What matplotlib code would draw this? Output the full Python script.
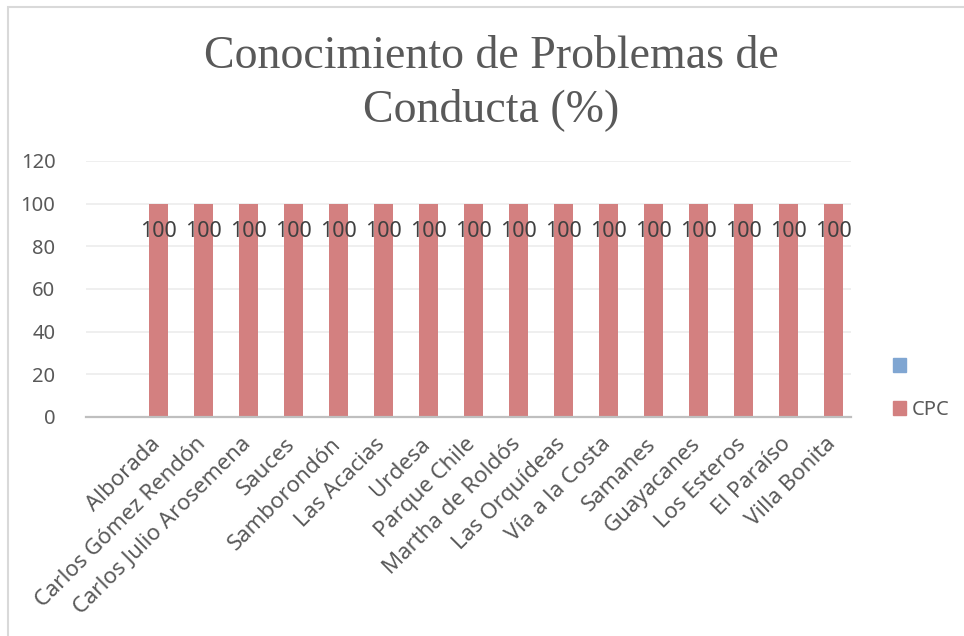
import matplotlib.pyplot as plt
import numpy as np
from matplotlib.patches import Patch, Rectangle

# data
barrios = ['Alborada', 'Carlos Gómez Rendón', 'Carlos Julio Arosemena', 'Sauces',
           'Samborondón', 'Las Acacias', 'Urdesa', 'Parque Chile', 'Martha de Roldós',
           'Las Orquídeas', 'Vía a la Costa', 'Samanes', 'Guayacanes', 'Los Esteros',
           'El Paraíso', 'Villa Bonita']
cpc = [100, 100, 100, 100, 100, 100, 100, 100, 100, 100, 100, 100, 100, 100, 100, 100]
y_ticks = [0, 20, 40, 60, 80, 100, 120]

W, H = 964, 636
fig = plt.figure(figsize=(W / 100, H / 100), dpi=100)
plt.rcParams['font.family'] = ['Noto Sans', 'DejaVu Sans']

ax = fig.add_axes([86 / W, 1 - 417 / H, (851 - 86) / W, (417 - 161) / H])

red = '#d38080'
blue = '#80a6d2'
txt = '#595959'

# first slot on the category axis is empty, like the source
x = np.arange(1, len(barrios) + 1)
bars = ax.bar(x + 0.12, cpc, width=0.42, color=red, zorder=2)

for xi, v in zip(x, cpc):
    ax.annotate(str(v), (xi + 0.12, v), xytext=(0, -20), textcoords='offset points',
                ha='center', va='center', fontsize=15.5, color='#404040', zorder=3)

ax.set_xlim(-0.5, len(barrios) + 0.5)
ax.set_ylim(0, 120)
ax.set_yticks(y_ticks)
ax.set_xticks(x - 0.08)
ax.set_xticklabels(barrios, rotation=45, ha='right', rotation_mode='anchor',
                   fontsize=16, color=txt)
ax.tick_params(axis='y', length=0, pad=22, labelsize=14.5, labelcolor=txt)
ax.tick_params(axis='x', length=0, pad=12)

for s in ['top', 'right', 'left']:
    ax.spines[s].set_visible(False)
ax.spines['bottom'].set_color('#bfbfbf')
ax.spines['bottom'].set_linewidth(1.6)
ax.spines['bottom'].set_zorder(4)
ax.yaxis.grid(True, color='#ececec', lw=1.2, zorder=0)
ax.set_axisbelow(True)

fig.text(491 / W, 1 - 36 / H,
         'Conocimiento de Problemas de\nConducta (%)',
         ha='center', va='top', fontsize=33, family='Liberation Serif',
         color=txt, linespacing=1.28)

handles = [Patch(color=blue), Patch(color=red)]
fig.legend(handles, [' ', 'CPC'], loc='upper left',
           bbox_to_anchor=(883 / W, 1 - 347 / H), frameon=False,
           handlelength=0.65, handleheight=0.65, handletextpad=0.3,
           labelspacing=1.15, fontsize=14.5, labelcolor=txt, borderpad=0)

# chart frame (cut off at right and bottom in the source)
fig.patches.append(Rectangle((8 / W, -0.1), 2, 1 - 7 / H + 0.1,
                             transform=fig.transFigure, fill=False,
                             edgecolor='#d9d9d9', lw=1.5))

fig.savefig('out.png', dpi=100)
